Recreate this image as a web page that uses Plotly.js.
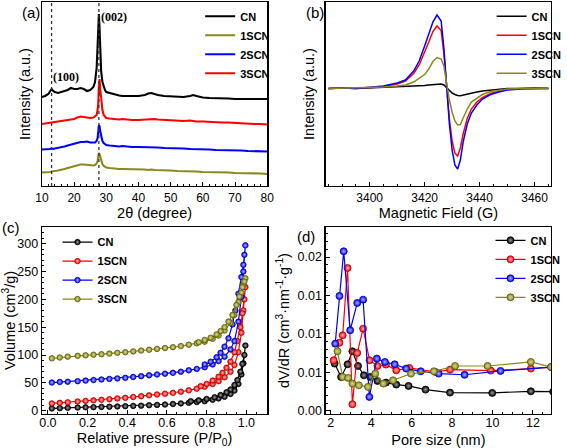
<!DOCTYPE html>
<html>
<head>
<meta charset="utf-8">
<script src="https://cdn.plot.ly/plotly-3.0.1.min.js"></script>
<style>html,body{margin:0;padding:0;background:#fff}#chart{width:567px;height:448px}</style>
</head>
<body>
<div id="chart"></div>
<script>
// ---------- (a) XRD ----------
const xrdTheta = [10,11,12,12.5,13,13.5,14, 15,16,17,18,19,20,21,22,23,24,25,26, 26.5,27,27.3,27.5,27.7,27.9,28.1,28.4,28.8,29.2,29.6, 30,31,32,33,34,35,36, 38,40,42,43,44,45,46,48, 50,52,54,56,57,58, 60,62,64,66,68,70,72,74,76,78,80];
const xrdCN   = [89,90,92,95,97,95,94, 93,94,95,96,98,97,97,98,97,95,96,99, 104,118,140,162,172,158,135,115,104,99,96, 94,93,92,91,90.5,90,90, 89.5,90,91,92.5,93,92,91,90, 89.5,89,89,90,91,90, 88.5,88,88,87.5,87.5,87,87,87,87,87,87];
const xrd1SCN = [13.5,13.5,14,14,14.5,14.5,15, 15.5,16,17,18,19,20,21,21.5,21.5,21,21,20.5, 21,22.5,25,29,33,32,29,25,22,20,19, 18.5,18,17.5,17.5,17,17,17, 16.5,16.5,16.5,16,16.5,16,16,15.5, 15.5,15,15,14.5,14.5,14.5, 14,14,14,13.5,13.5,13,13,13,12.5,12.5,12];
const xrd2SCN = [36.5,36.5,37,37,37.5,37,37.5, 38,38.5,39.5,40.5,41.5,42.5,43,44,44,44.5,43.5,43, 43.5,45,48,54,61,60,55,49,45,43,42, 41,40.5,40,40,39.5,40,39.5, 39,39,39,38.5,39,38.5,38.5,38, 38,37.5,37.5,37,37,37, 36.5,36.5,36,36,36,35.5,35.5,35,35,34.5,34.5];
const xrd3SCN = [62,62.5,63,62.5,63.5,63,63.5, 64,64.5,65,66,66.5,67,68.5,69.5,69,68.5,68,68.5, 69.5,71,76,82,100,107,98,84,76,71,69, 68,67.5,67,67,66.5,67,66.5, 66,66,66.5,66,66.5,67,66.5,66, 65.5,65,65,65.5,65,64.5, 64.5,64,64,63.5,63.5,63,63,62.5,62,62,61.5];
const xrdRefLines = [13, 27.7];

// ---------- (b) EPR ----------
const eprField = [3385,3390,3395,3400,3405,3410,3413,3416,3418,3420,3421.5,3423,3424.5,3426,3427,3428,3429,3430,3431,3432,3433,3434,3435.5,3437,3439,3441,3444,3447,3450,3455,3460,3465];
const eprCN   = [97.5,98,97.5,98,98.5,99,99.5,100,100,100.5,101,101.5,102,102,101,98,95,93,91.5,90.5,90.3,91,92,93,94,95,96,97,97.5,97.5,98,97.5];
const epr1SCN = [97.5,97.8,98,98.2,99.5,102,105,112.5,121,133.5,144,154.5,160,155.5,132,100,67,45,33,30,38,52,67.5,77,84,88.5,92.5,94.5,96.5,97.5,97.5,97.8];
const epr2SCN = [97.5,98,97.5,98.5,100,103,106,115,125,140,152,164,171,165,138,100,62,36,21,17,26,44,62,73,81,87,91.5,94,96,97,97.5,97.5];
const epr3SCN = [97.5,97.8,98,98.5,99,100,101,104,107.5,111.5,117,124.5,128.5,127,120,101,86,74,65,61,61.5,68,77,84,88,91.5,94.5,96,97,97.5,97.5,97.5];

// ---------- (c) N2 isotherms (adsorption then desorption) ----------
const cnP   = [0.02,0.06,0.10,0.15,0.19,0.23,0.27,0.31,0.35,0.39,0.43,0.47,0.51,0.55,0.59,0.63,0.67,0.71,0.75,0.79,0.83,0.86,0.89,0.92,0.94,0.96,0.975,0.985,0.995, 0.99,0.98,0.97,0.955,0.94,0.92,0.90,0.87,0.84,0.80,0.76,0.72];
const cnV   = [4,4.5,5,5.5,6,6.3,6.7,7,7.5,8,8.5,9,9.7,10.3,11,12,13,14,15.5,17,19.5,22,25,30,36,48,65,85,117, 100,84,70,55,46,38,33,28,24,21,18.5,17];
const scn1P = [0.02,0.06,0.10,0.15,0.19,0.23,0.27,0.31,0.35,0.39,0.43,0.47,0.51,0.55,0.59,0.63,0.67,0.71,0.75,0.79,0.83,0.86,0.89,0.92,0.94,0.96,0.975,0.985,0.995, 0.99,0.98,0.97,0.955,0.94,0.92,0.90,0.88,0.86,0.83,0.80,0.77];
const scn1V = [13,14,15,16.5,17.5,18.5,19.5,20.5,22,23,24.5,26,27.5,29,30.5,32,34,36.5,39.5,43,48,53,60,70,82,105,140,180,222, 200,175,150,125,105,88,77,68,61,54,48,44];
const scn2P = [0.02,0.06,0.10,0.15,0.19,0.23,0.27,0.31,0.35,0.39,0.43,0.47,0.51,0.55,0.59,0.63,0.67,0.71,0.75,0.79,0.83,0.86,0.89,0.92,0.94,0.96,0.975,0.985,0.995, 0.99,0.985,0.975,0.96,0.945,0.93,0.91,0.89,0.87,0.85,0.82,0.79];
const scn2V = [50.5,51.5,52,53,54,55,56,57,58,59,60.5,62,63.5,65,66.5,68,70,72.5,75,78,83,89,97,110,125,160,205,250,297, 280,262,240,210,180,155,130,115,104,96,88,83];
const scn3P = [0.02,0.06,0.10,0.15,0.19,0.23,0.27,0.31,0.35,0.39,0.43,0.47,0.51,0.55,0.59,0.63,0.67,0.71,0.75,0.79,0.83,0.86,0.89,0.92,0.94,0.96,0.975,0.985,0.995, 0.99,0.98,0.965,0.95,0.93,0.91,0.89,0.87,0.85,0.82,0.79,0.76];
const scn3V = [94,95.5,97,98.5,99.5,100.5,101.5,102.5,104,105,106.5,108,109.5,111,112.5,114,116,118.5,121,124,129,135,144,158,172,195,212,226,238, 232,222,205,190,172,160,150,143,137,131,127,123];

// ---------- (d) pore size distribution ----------
const psdCNx   = [2.19,2.51,2.83,3.07,3.35,3.64,3.96,4.31,4.73,5.24,5.85,6.69,7.90,9.99,11.9,13.0];
const psdCNy   = [0.00615,0.00442,0.00606,0.00775,0.00584,0.00463,0.00442,0.0039,0.00368,0.00342,0.00325,0.00277,0.00238,0.00234,0.00255,0.0025];
const psd1SCNx = [2.14,2.43,2.59,2.83,3.07,3.31,3.60,3.92,4.31,4.73,5.24,5.89,7.18,7.90,9.92,11.9,13.0];
const psd1SCNy = [0.00658,0.00887,0.00983,0.01857,0.00087,0.00753,0.01069,0.00658,0.00584,0.00602,0.00528,0.00558,0.00506,0.00537,0.00524,0.0055,0.0057];
const psd2SCNx = [2.22,2.43,2.64,2.96,3.31,3.60,3.91,4.28,4.68,5.16,5.73,6.45,7.34,8.62,10.4,12.9];
const psd2SCNy = [0.00874,0.01494,0.02074,0.01048,0.01403,0.01446,0.00182,0.0068,0.00636,0.00606,0.0055,0.00515,0.00485,0.0047,0.0052,0.0057];
const psd3SCNx = [2.33,2.59,2.86,3.07,3.39,3.84,4.20,4.60,5.08,5.97,7.10,8.15,9.76,11.9,12.9];
const psd3SCNy = [0.00775,0.00442,0.00429,0.00355,0.00333,0.00312,0.00485,0.00355,0.00398,0.00485,0.00515,0.00584,0.00584,0.00636,0.0057];
const psdTickVals = [0, 0.005, 0.01, 0.015, 0.02];
const psdTickText = ['0.00', '0.01', '0.01', '0.01', '0.02'];

const C = {black:'#000000', red:'#ff0000', blue:'#0000ff', olive:'#8a8a1c'};
const DARK = {black:'#000000', red:'#b00000', blue:'#0000b0', olive:'#5a5a0c'};
const LIGHT = {black:'#9a9a9a', red:'#ffb4b4', blue:'#b4b4ff', olive:'#d8d890'};

function line(x, y, name, col, xa, ya, lg, w) {
  return {x, y, name, type:'scatter', mode:'lines', xaxis:xa, yaxis:ya, legend:lg,
          line:{color:col, width:w || 1.6}};
}
function lm(x, y, name, key, xa, ya, lg, ms) {
  return {x, y, name, type:'scatter', mode:'lines+markers', xaxis:xa, yaxis:ya, legend:lg,
          line:{color:C[key], width:1.2},
          marker:{symbol:'circle', size:ms, color:C[key], gradient:{type:'radial', color:LIGHT[key]},
                  line:{color:DARK[key], width:0.8}}};
}

const traces = [
  line(xrdTheta, xrdCN, 'CN', C.black, 'x', 'y', 'legend', 2.1),
  line(xrdTheta, xrd1SCN, '1SCN', C.olive, 'x', 'y', 'legend', 2.1),
  line(xrdTheta, xrd2SCN, '2SCN', C.blue, 'x', 'y', 'legend', 2.1),
  line(xrdTheta, xrd3SCN, '3SCN', C.red, 'x', 'y', 'legend', 2.1),

  line(eprField, eprCN, 'CN', C.black, 'x2', 'y2', 'legend2', 1.5),
  line(eprField, epr1SCN, '1SCN', C.red, 'x2', 'y2', 'legend2', 1.5),
  line(eprField, epr2SCN, '2SCN', C.blue, 'x2', 'y2', 'legend2', 1.5),
  line(eprField, epr3SCN, '3SCN', C.olive, 'x2', 'y2', 'legend2', 1.5),

  lm(cnP, cnV, 'CN', 'black', 'x3', 'y3', 'legend3', 5.5),
  lm(scn1P, scn1V, '1SCN', 'red', 'x3', 'y3', 'legend3', 5.5),
  lm(scn2P, scn2V, '2SCN', 'blue', 'x3', 'y3', 'legend3', 5.5),
  lm(scn3P, scn3V, '3SCN', 'olive', 'x3', 'y3', 'legend3', 5.5),

  lm(psdCNx, psdCNy, 'CN', 'black', 'x4', 'y4', 'legend4', 7),
  lm(psd1SCNx, psd1SCNy, '1SCN', 'red', 'x4', 'y4', 'legend4', 7),
  lm(psd2SCNx, psd2SCNy, '2SCN', 'blue', 'x4', 'y4', 'legend4', 7),
  lm(psd3SCNx, psd3SCNy, '3SCN', 'olive', 'x4', 'y4', 'legend4', 7)
];

const FONT = 'Arial, "Liberation Sans", sans-serif';
function ax(extra) {
  return Object.assign({
    showline:true, mirror:true, linecolor:'#000', linewidth:1.3,
    ticks:'inside', ticklen:4, tickwidth:1, tickcolor:'#000',
    showgrid:false, zeroline:false, automargin:false,
    tickfont:{family:FONT, size:12, color:'#000'},
    minor:{ticks:'inside', ticklen:2, tickcolor:'#000'}
  }, extra);
}
const titleFont = {family:FONT, size:14.5, color:'#000'};
const tick13 = {family:FONT, size:12.5, color:'#000'};
const legFont = {family:FONT, size:11, color:'#000', weight:'bold'};
function leg(x, y) {
  return {x, y, xanchor:'left', yanchor:'top', bgcolor:'rgba(0,0,0,0)', borderwidth:0,
          font:legFont, itemwidth:30, tracegroupgap:0};
}

const shapes = xrdRefLines.map(v => ({type:'line', xref:'x', yref:'y domain', x0:v, x1:v, y0:0, y1:1,
  line:{color:'#333', width:1.3, dash:'dot'}}));

const layout = {
  width:567, height:448,
  margin:{l:0, r:0, t:0, b:0},
  paper_bgcolor:'#fff', plot_bgcolor:'#fff',
  font:{family:FONT, color:'#000'},
  showlegend:true,
  xaxis: ax({domain:[0.0758,0.4832], anchor:'y', range:[10,80], dtick:10,
    title:{text:'2θ (degree)', font:titleFont, standoff:3}}),
  yaxis: ax({domain:[0.5848,0.9955], anchor:'x', range:[0,184], showticklabels:false, ticks:'', minor:{ticks:''},
    title:{text:'Intensity (a.u.)', font:titleFont, standoff:6}}),
  xaxis2: ax({domain:[0.589,0.9965], anchor:'y2', range:[3384,3466], tickvals:[3400,3420,3440,3460],
    title:{text:'Magnetic Field (G)', font:titleFont, standoff:3}}),
  yaxis2: ax({domain:[0.5848,0.9955], anchor:'x2', range:[0,184], showticklabels:false, ticks:'', minor:{ticks:''},
    title:{text:'Intensity (a.u.)', font:titleFont, standoff:6}}),
  xaxis3: ax({domain:[0.0758,0.4832], anchor:'y3', range:[-0.03,1.105], dtick:0.2, tickformat:'.1f',
    tickfont:tick13, ticklabelstandoff:-3,
    title:{text:'Relative pressure (P/P<sub>0</sub>)', font:titleFont, standoff:5}}),
  yaxis3: ax({domain:[0.0759,0.4933], anchor:'x3', range:[-6,330], dtick:50,
    tickfont:tick13,
    title:{text:'Volume (cm<sup>3</sup>/g)', font:titleFont, standoff:4}}),
  xaxis4: ax({domain:[0.589,0.9965], anchor:'y4', range:[1.75,12.9], dtick:2,
    tickfont:tick13, ticklabelstandoff:-3,
    title:{text:'Pore size (nm)', font:titleFont, standoff:5}}),
  yaxis4: ax({domain:[0.0759,0.4933], anchor:'x4', range:[-0.0004,0.0239], tickvals:psdTickVals, ticktext:psdTickText,
    tickfont:tick13,
    title:{text:'dV/dR (cm<sup>3</sup>·nm<sup>-1</sup>·g<sup>-1</sup>)', font:titleFont, standoff:4}}),
  legend: leg(0.362, 0.996),
  legend2: leg(0.889, 0.996),
  legend3: leg(0.104, 0.492),
  legend4: leg(0.887, 0.496),
  shapes,
  annotations:[
    {text:'(a)', xref:'paper', yref:'paper', x:32/567, y:1-13/448, showarrow:false, xanchor:'center', yanchor:'middle', font:{family:FONT, size:15}},
    {text:'(b)', xref:'paper', yref:'paper', x:323/567, y:1-13/448, showarrow:false, xanchor:'center', yanchor:'middle', font:{family:FONT, size:15}},
    {text:'(c)', xref:'paper', yref:'paper', x:11/567, y:1-227/448, showarrow:false, xanchor:'center', yanchor:'middle', font:{family:FONT, size:15}},
    {text:'(d)', xref:'paper', yref:'paper', x:314/567, y:1-236/448, showarrow:false, xanchor:'center', yanchor:'middle', font:{family:FONT, size:15}},
    {text:'(100)', xref:'x', yref:'y', x:17.6, y:109, showarrow:false, font:{family:'"Liberation Serif", "Times New Roman", serif', size:12, weight:'bold'}},
    {text:'(002)', xref:'x', yref:'y', x:32.4, y:169, showarrow:false, font:{family:'"Liberation Serif", "Times New Roman", serif', size:12, weight:'bold'}}
  ]
};

Plotly.newPlot('chart', traces, layout, {displayModeBar:false, staticPlot:true});
</script>
</body>
</html>
